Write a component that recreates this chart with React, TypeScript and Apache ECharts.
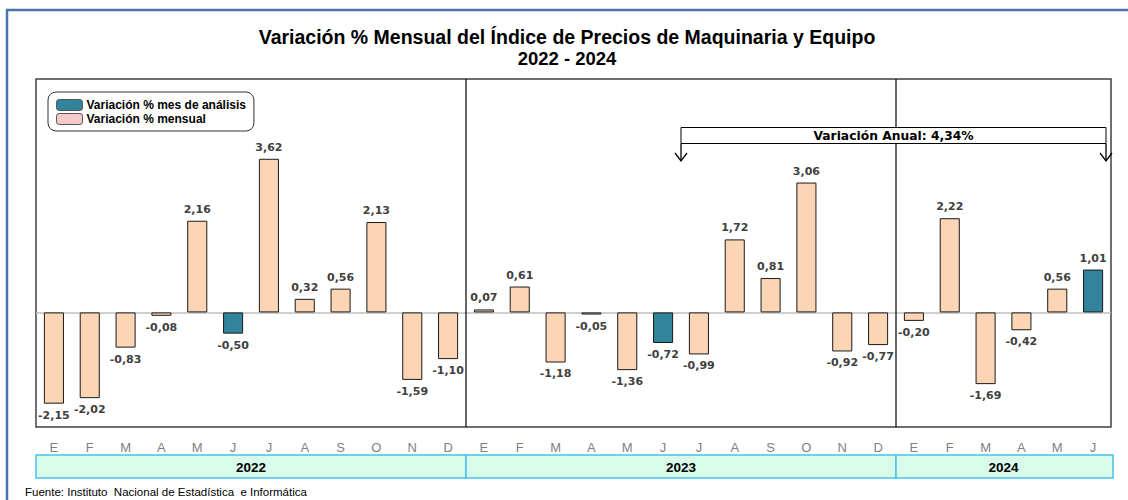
import React, { useEffect, useRef } from "react";
import * as echarts from "echarts";

const years = ["2022", "2023", "2024"];
const monthLetters = ["E", "F", "M", "A", "M", "J", "J", "A", "S", "O", "N", "D"];
const v2022 = [-2.15, -2.02, -0.83, -0.08, 2.16, -0.5, 3.62, 0.32, 0.56, 2.13, -1.59, -1.1];
const v2023 = [0.07, 0.61, -1.18, -0.05, -1.36, -0.72, -0.99, 1.72, 0.81, 3.06, -0.92, -0.77];
const v2024 = [-0.2, 2.22, -1.69, -0.42, 0.56, 1.01];
const analysisMonth = 5; // "J" (junio) = mes de análisis
const annualText = "Variación Anual: 4,34%";
const titleLines = [
  "Variación % Mensual del Índice de Precios de Maquinaria y Equipo",
  "2022 - 2024",
];
const sourceText = "Fuente: Instituto  Nacional de Estadística  e Informática";
const legendNames = ["Variación % mes de análisis", "Variación % mensual"];

const yearValues = [v2022, v2023, v2024];

const categories: string[] = [];
const values: number[] = [];
const isAnalysis: boolean[] = [];
yearValues.forEach((arr, yi) => {
  arr.forEach((v, mi) => {
    categories.push(years[yi] + "-" + monthLetters[mi]);
    values.push(v);
    isAnalysis.push(mi === analysisMonth);
  });
});

const fmt = (v: number) => v.toFixed(2).replace(".", ",");

const PEACH = "#fcd5b4";
const TEAL = "#31849b";

export default function App() {
  const ref = useRef<HTMLDivElement>(null);
  useEffect(() => {
    if (!ref.current) return;
    const chart = echarts.init(ref.current, null, { renderer: "svg" });
    const mkData = (analysis: boolean) =>
      values.map((v, i) =>
        isAnalysis[i] === analysis
          ? { value: v, label: { position: v < 0 ? "bottom" : "top" } }
          : "-"
      );
    const labelStyle = {
      show: true,
      formatter: (p: any) => fmt(p.value),
      fontFamily: "DejaVu Sans",
      fontWeight: "bold",
      fontSize: 11,
      color: "#404040",
      distance: 6,
    };
    chart.setOption({
      animation: false,
      backgroundColor: "#ffffff",
      grid: {
        left: 36,
        right: 17,
        top: 79,
        bottom: 73,
        show: true,
        borderColor: "#404040",
        borderWidth: 1.5,
        containLabel: false,
      },
      legend: {
        orient: "vertical",
        left: 48,
        top: 92,
        padding: [7, 8, 6, 8],
        itemWidth: 26,
        itemHeight: 11,
        itemGap: 2,
        borderColor: "#333",
        borderWidth: 1,
        borderRadius: 8,
        backgroundColor: "#ffffff",
        selectedMode: false,
        textStyle: {
          fontFamily: "Liberation Sans",
          fontWeight: "bold",
          fontSize: 12,
          color: "#000",
          padding: [0, 0, 0, -1],
        },
        data: [
          { name: legendNames[0], itemStyle: { color: TEAL, borderColor: "#555", borderWidth: 1 } },
          { name: legendNames[1], itemStyle: { color: "#f8c9c9", borderColor: "#555", borderWidth: 1 } },
        ],
      },
      xAxis: {
        type: "category",
        data: categories,
        axisLine: { show: false, onZero: false },
        axisTick: { show: false },
        axisLabel: {
          interval: 0,
          margin: 14,
          formatter: (c: string) => c.split("-")[1],
          fontFamily: "Liberation Sans",
          fontSize: 13,
          color: "#7f7f7f",
        },
        splitLine: { show: false },
      },
      yAxis: {
        type: "value",
        min: -2.7,
        max: 5.5,
        show: false,
        splitLine: { show: false },
      },
      series: [
        {
          name: legendNames[1],
          type: "bar",
          barWidth: "56%",
          barGap: "-100%",
          data: mkData(false),
          itemStyle: { color: PEACH, borderColor: "#1a1a1a", borderWidth: 1 },
          label: labelStyle,
          markLine: {
            silent: true,
            symbol: "none",
            label: { show: false },
            lineStyle: { color: "#bfbfbf", width: 1.5, type: "solid" },
            data: [{ yAxis: 0 }],
            z: 1,
          },
          z: 3,
        },
        {
          name: legendNames[0],
          type: "bar",
          barWidth: "56%",
          barGap: "-100%",
          data: mkData(true),
          itemStyle: { color: TEAL, borderColor: "#1a1a1a", borderWidth: 1 },
          label: labelStyle,
          z: 3,
        },
      ],
    });

    const cx = (i: number) => chart.convertToPixel({ xAxisIndex: 0 }, i) as number;
    const step = cx(1) - cx(0);
    const left = (i: number) => cx(i) - step / 2;
    const right = (i: number) => cx(i) + step / 2;
    const top = chart.convertToPixel({ yAxisIndex: 0 }, 5.5) as number;
    const bottom = chart.convertToPixel({ yAxisIndex: 0 }, -2.7) as number;

    const graphics: any[] = [];
    graphics.push({
      type: "line",
      shape: { x1: 7, y1: 10, x2: 7, y2: 500 },
      style: { stroke: "#4a74b0", lineWidth: 2.5 },
    });
    graphics.push({
      type: "line",
      shape: { x1: 6, y1: 10, x2: 1128, y2: 10 },
      style: { stroke: "#4a74b0", lineWidth: 2.5 },
    });
    const titleSizes = [19.5, 18.5];
    titleLines.forEach((t, k) => {
      graphics.push({
        type: "text",
        x: 567,
        y: 37 + k * 21,
        style: {
          text: t,
          align: "center",
          verticalAlign: "middle",
          fontFamily: "Liberation Sans",
          fontWeight: "bold",
          fontSize: titleSizes[k],
          fill: "#000",
        },
      });
    });
    let start = 0;
    yearValues.forEach((arr, yi) => {
      const s = start;
      const e = start + arr.length - 1;
      const x0 = left(s);
      const x1 = right(e);
      if (yi > 0) {
        graphics.push({
          type: "line",
          z: 10,
          shape: { x1: x0, y1: top, x2: x0, y2: bottom },
          style: { stroke: "#000", lineWidth: 1.2 },
        });
      }
      graphics.push({
        type: "rect",
        shape: { x: x0, y: 455, width: x1 - x0 + (yi === yearValues.length - 1 ? 2 : 0), height: 23 },
        style: { fill: "#d9fbea", stroke: "#45c3ee", lineWidth: 1.5 },
      });
      graphics.push({
        type: "text",
        x: (x0 + x1) / 2,
        y: 467,
        style: {
          text: years[yi],
          align: "center",
          verticalAlign: "middle",
          fontFamily: "Liberation Sans",
          fontWeight: "bold",
          fontSize: 13.5,
          fill: "#000",
        },
      });
      start += arr.length;
    });
    const ax0 = right(12 + analysisMonth);
    const ax1 = right(values.length - 1) - 5;
    graphics.push({
      type: "rect",
      z: 20,
      shape: { x: ax0, y: 127.5, width: ax1 - ax0, height: 16 },
      style: { fill: "#fff", stroke: "#000", lineWidth: 1 },
    });
    graphics.push({
      type: "text",
      z: 21,
      x: (ax0 + ax1) / 2,
      y: 136,
      style: {
        text: annualText,
        align: "center",
        verticalAlign: "middle",
        fontFamily: "DejaVu Sans",
        fontWeight: "bold",
        fontSize: 12.3,
        fill: "#000",
      },
    });
    [ax0, ax1].forEach((x) => {
      graphics.push({
        type: "line",
        z: 20,
        shape: { x1: x, y1: 143.5, x2: x, y2: 161 },
        style: { stroke: "#000", lineWidth: 1.3 },
      });
      graphics.push({
        type: "polyline",
        z: 20,
        shape: { points: [[x - 6, 153], [x, 161], [x + 6, 153]] },
        style: { stroke: "#000", lineWidth: 1.3, fill: "none" },
      });
    });
    graphics.push({
      type: "text",
      x: 25,
      y: 492,
      style: {
        text: sourceText,
        align: "left",
        verticalAlign: "middle",
        fontFamily: "Liberation Sans",
        fontSize: 11.5,
        fill: "#000",
      },
    });
    chart.setOption({ graphic: graphics });

    return () => chart.dispose();
  }, []);
  return (
    <div
      ref={ref}
      style={{ position: "absolute", left: 0, top: 0, width: 1128, height: 500, background: "#fff" }}
    />
  );
}
